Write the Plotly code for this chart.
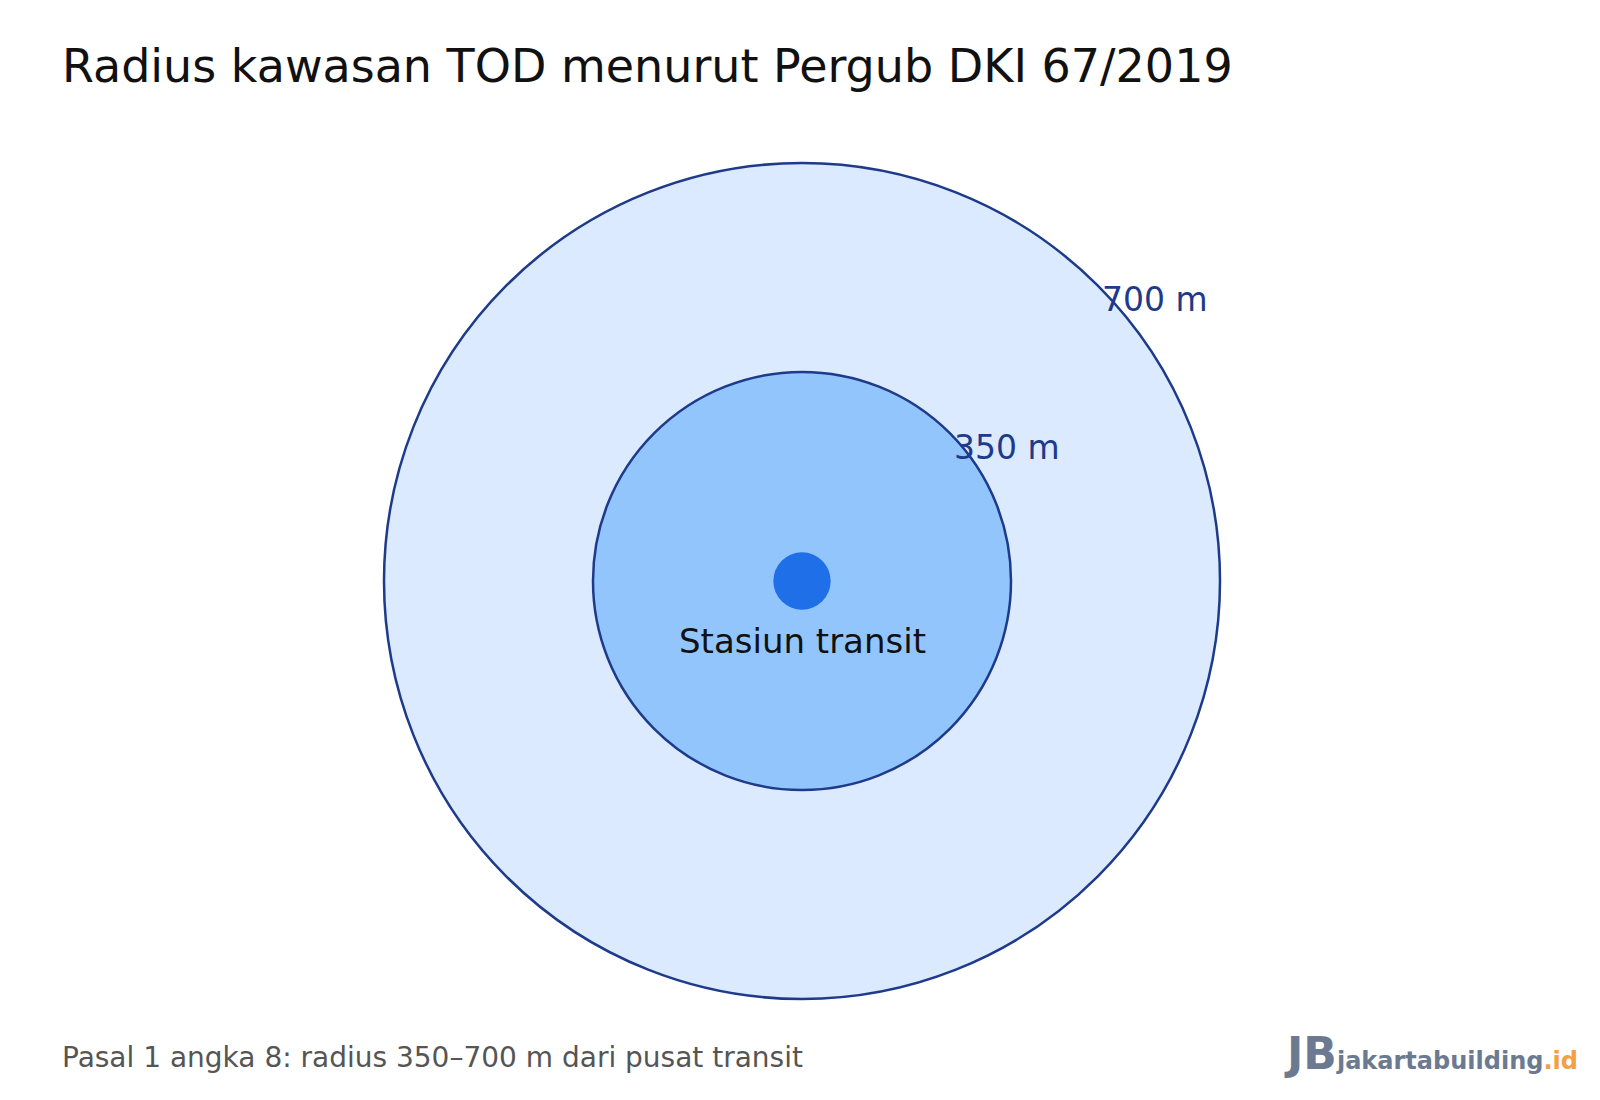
import plotly.graph_objects as go

radii = [700, 350]          # metres
radius_labels = ["700 m", "350 m"]
fills = ["#dbeafe", "#93c5fd"]
station_label = "Stasiun transit"
station_radius = 48         # metres, marker size only

W, H = 1600, 1100
cx_px, cy_px = 794, 573
s = 418 / 700  # px per metre

fig = go.Figure()

for r, fc in zip(radii, fills):
    fig.add_shape(type="circle", xref="x", yref="y", x0=-r, y0=-r, x1=r, y1=r,
                  fillcolor=fc, line=dict(color="#1e3a8a", width=2.5), layer="below")
fig.add_shape(type="circle", xref="x", yref="y",
              x0=-station_radius, y0=-station_radius, x1=station_radius, y1=station_radius,
              fillcolor="#1f70e8", line=dict(width=0))

for r, lab in zip(radii, radius_labels):
    d = r * 0.7071
    fig.add_annotation(x=d, y=d, text=lab, showarrow=False, xanchor="left", yanchor="bottom",
                       font=dict(size=33, color="#1e3a8a"), xshift=2, yshift=-36)

fig.add_annotation(x=0, y=-100, text=station_label, showarrow=False, yanchor="middle",
                   font=dict(size=34, color="#111111"))

fig.add_trace(go.Scatter(x=[0], y=[0], mode="markers", marker=dict(size=1, opacity=0),
                         hoverinfo="skip", showlegend=False))

fig.update_xaxes(range=[-cx_px / s, (W - cx_px) / s], visible=False, fixedrange=True)
fig.update_yaxes(range=[-(H - cy_px) / s, cy_px / s], visible=False, fixedrange=True)

fig.add_annotation(xref="paper", yref="paper", x=52 / W, y=1 - 58 / H, text="Radius kawasan TOD menurut Pergub DKI 67/2019",
                   showarrow=False, xanchor="left", yanchor="middle", font=dict(size=46, color="#111111"))
fig.add_annotation(xref="paper", yref="paper", x=52 / W, y=1 - 1049 / H,
                   text="Pasal 1 angka 8: radius 350–700 m dari pusat transit",
                   showarrow=False, xanchor="left", yanchor="middle", font=dict(size=28, color="#555555"))
fig.add_annotation(xref="paper", yref="paper", x=1572 / W, y=1 - 1045 / H,
                   text="<b><span style='font-size:44px;color:#6b7a90'>JB</span>jakartabuilding<span style='color:#f59e42'>.id</span></b>",
                   showarrow=False, xanchor="right", yanchor="middle", font=dict(size=24, color="#6b7a90"))

fig.update_layout(width=W, height=H, margin=dict(l=0, r=0, t=0, b=0),
                  paper_bgcolor="white", plot_bgcolor="white",
                  font=dict(family="DejaVu Sans"))

fig.write_html("out.html")
